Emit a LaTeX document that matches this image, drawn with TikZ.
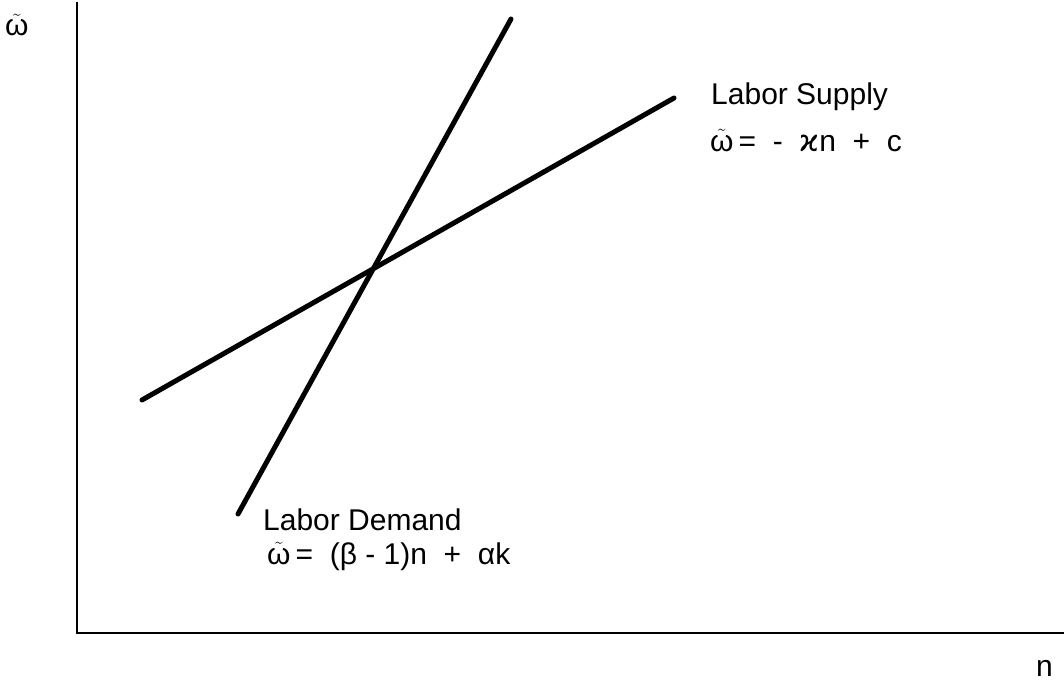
\documentclass[tikz,border=0pt]{standalone}
\usepackage{fontspec}
\setmainfont{Liberation Sans}
\newfontfamily\greekfont{DejaVu Sans}
\usetikzlibrary{positioning}
\newcommand{\wtil}{$\tilde{\mbox{ω}}$}

\begin{document}
\begin{tikzpicture}[x=1pt, y=-1pt,
        font=\fontsize{30}{34}\selectfont,
        axis/.style={draw=black, line width=2.5pt},
        curve/.style={draw=black, line width=5pt, line cap=round},
        lbl/.style={inner sep=0pt, anchor=base west, align=left}]
        \useasboundingbox (0,0) rectangle (1064,682);
        % axes
        \coordinate (ytop) at (77,2);
        \coordinate (origin) at (77,633);
        \coordinate (xend) at (1064,633);
        \draw[axis] (ytop) -- (origin) -- (xend);
        \node[lbl] (wlab) at (5,36) {\wtil};
        \node[lbl] (nlab) at (1036,676) {n};
        % curves
        \coordinate (supA) at (142,400);
        \coordinate (supB) at (674,98);
        \coordinate (demA) at (238,514);
        \coordinate (demB) at (511,19);
        \draw[curve] (supA) -- (supB);
        \draw[curve] (demA) -- (demB);
        % labels
        \node[lbl] (suptitle) at (711,105) {Labor Supply};
        \node[lbl] (supeq) at (710,151) {\wtil\,= \ - \ {\greekfont ϰ}n \ + \ c};
        \node[lbl] (demtitle) at (263,530) {Labor Demand};
        \node[lbl] (demeq) at (267,564) {\wtil\,= \ (β - 1)n \ + \ αk};
      \end{tikzpicture}
\end{document}
